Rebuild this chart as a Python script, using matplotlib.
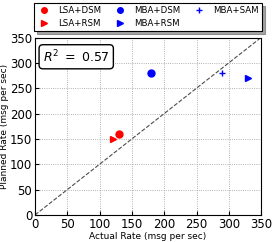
import matplotlib
matplotlib.use('Agg')
import matplotlib.pyplot as plt

# Values
lsa_dsm = ([130], [160])
lsa_rsm = ([120], [150])
mba_dsm = ([180], [280])
mba_rsm = ([330], [270])
mba_sam = ([290], [280])
r_squared = 0.57

fig = plt.figure(figsize=(2.74, 2.42), dpi=100)
ax = fig.add_axes([0.128, 0.112, 0.825, 0.733])

ax.plot([0, 350], [0, 350], linestyle='--', color='0.3', linewidth=0.8)
ax.plot(*lsa_dsm, 'o', color='red', markersize=5, label='LSA+DSM')
ax.plot(*lsa_rsm, '>', color='red', markersize=5, label='LSA+RSM')
ax.plot(*mba_dsm, 'o', color='blue', markersize=5, label='MBA+DSM')
ax.plot(*mba_rsm, '>', color='blue', markersize=5, label='MBA+RSM')
ax.plot(*mba_sam, '+', color='blue', markersize=5, label='MBA+SAM')

ax.set_xlim(0, 350)
ax.set_ylim(0, 350)
ax.set_xticks(range(0, 351, 50))
ax.set_yticks(range(0, 351, 50))
ax.tick_params(labelsize=8.5, length=3, direction='in', pad=2)
ax.grid(True, linestyle=':', color='0.6', linewidth=0.6)
ax.set_xlabel('Actual Rate (msg per sec)', fontsize=6.5, labelpad=1)
ax.set_ylabel('Planned Rate (msg per sec)', fontsize=6.5, labelpad=1)

ax.text(12, 312, r'$R^2\ =\ %.2f$' % r_squared, fontsize=9, va='center',
        bbox=dict(boxstyle='round,pad=0.3', facecolor='white', edgecolor='black'))

leg = fig.legend(loc='upper center', bbox_to_anchor=(0.54, 0.988), ncol=3,
                 fontsize=6.2, numpoints=1, fancybox=False, shadow=True,
                 frameon=True, edgecolor='black', columnspacing=1.3,
                 handlelength=1.6, handletextpad=0.9, borderpad=0.35,
                 labelspacing=0.5, markerscale=0.8, borderaxespad=0.0)
leg.get_frame().set_linewidth(0.8)

fig.savefig('out.png', dpi=100)
